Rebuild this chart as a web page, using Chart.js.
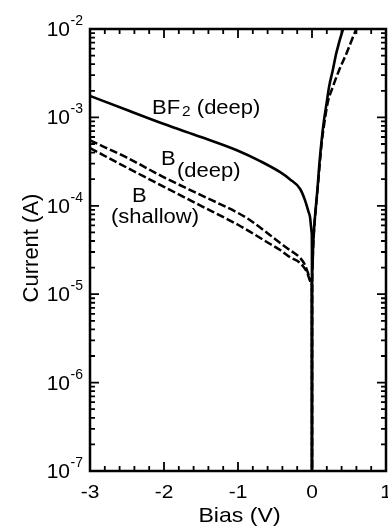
<!DOCTYPE html>
<html>
<head>
<meta charset="utf-8">
<script src="https://cdn.jsdelivr.net/npm/chart.js@4.4.1/dist/chart.umd.min.js"></script>
<style>
  html, body { margin: 0; padding: 0; background: #ffffff; }
  #wrap { width: 388px; height: 526px; position: relative; }
</style>
</head>
<body>
<div id="wrap"><canvas id="c" width="388" height="526"></canvas></div>
<script>
// ---- data (Bias in V, Current in A) ----
const biasBF2 = [-3, -2.5, -2, -1.5, -1, -0.7, -0.43, -0.3, -0.16, -0.095, -0.05, -0.027, -0.012, -0.004, -0.001, 0,
  0.002, 0.006, 0.0135, 0.025, 0.04, 0.06, 0.08, 0.1, 0.13, 0.16, 0.2, 0.23, 0.28, 0.33, 0.42, 0.5];
const currentBF2 = [1.75e-3, 1.21e-3, 8.4e-4, 6.0e-4, 4.2e-4, 3.2e-4, 2.4e-4, 2.0e-4, 1.55e-4, 1.16e-4, 8.7e-5, 7.5e-5, 5.75e-5, 4.9e-5, 3.0e-5, 1e-9,
  1.2e-5, 2.0e-5, 3.2e-5, 5.0e-5, 7.5e-5, 1.15e-4, 1.8e-4, 3.0e-4, 5.5e-4, 9.0e-4, 1.5e-3, 2.2e-3, 3.4e-3, 5.4e-3, 1.0e-2, 1.5e-2];

const biasBdeep = [-3, -2.5, -2, -1.5, -1, -0.84, -0.6, -0.43, -0.3, -0.16, -0.095, -0.054, -0.02, -0.003, 0,
  0.002, 0.006, 0.014, 0.026, 0.042, 0.062, 0.083, 0.105, 0.135, 0.17, 0.215, 0.28, 0.365, 0.47, 0.6, 0.7];
const currentBdeep = [5.5e-4, 3.5e-4, 2.1e-4, 1.32e-4, 8.3e-5, 6.9e-5, 4.9e-5, 3.8e-5, 3.16e-5, 2.57e-5, 2.14e-5, 1.74e-5, 1.48e-5, 1.34e-5, 1e-9,
  1.2e-5, 2.0e-5, 3.2e-5, 5.0e-5, 7.5e-5, 1.15e-4, 1.8e-4, 3.0e-4, 5.5e-4, 9.0e-4, 1.5e-3, 2.2e-3, 3.4e-3, 5.4e-3, 1.0e-2, 1.4e-2];

const biasBshallow = [-3, -2.5, -2, -1.5, -1, -0.84, -0.6, -0.43, -0.3, -0.16, -0.068, -0.0135, -0.002, 0];
const currentBshallow = [4.5e-4, 2.7e-4, 1.64e-4, 1.0e-4, 6.1e-5, 5.1e-5, 3.85e-5, 3.16e-5, 2.63e-5, 2.25e-5, 1.78e-5, 1.37e-5, 1.25e-5, 1e-9];

// ---- axes ----
const xMin = -3, xMax = 1;
const yMin = 1e-7, yMax = 1e-2;
const xTickValues = [-3, -2, -1, 0, 1];
const xTickLabels = ['-3', '-2', '-1', '0', '1'];
const xMinorStep = 0.2;
const yTickValues = [1e-7, 1e-6, 1e-5, 1e-4, 1e-3, 1e-2];
const yTickExponents = ['-7', '-6', '-5', '-4', '-3', '-2'];
const xTitle = 'Bias (V)';
const yTitle = 'Current (A)';

// curve labels, anchored in data units (left / baseline)
const curveLabels = [
  { x: -2.162, y: 1.08e-3, parts: [{ t: 'BF' }, { t: '2', sub: true }, { t: ' (deep)' }] },
  { x: -2.04, y: 2.9e-4, parts: [{ t: 'B' }] },
  { x: -1.824, y: 2.14e-4, parts: [{ t: '(deep)' }] },
  { x: -2.432, y: 1.10e-4, parts: [{ t: 'B' }] },
  { x: -2.716, y: 6.38e-5, parts: [{ t: '(shallow)' }] }
];

function pts(xs, ys) { return xs.map((v, i) => ({ x: v, y: ys[i] })); }

const FONT = '"Liberation Sans", Arial, Helvetica, sans-serif';
const SX = 1.1; // horizontal text stretch seen in the reference

function drawText(ctx, s, x, y, size, align, sx, rot) {
  ctx.save();
  ctx.translate(x, y);
  if (rot) ctx.rotate(rot);
  ctx.scale(sx, 1);
  ctx.font = size + 'px ' + FONT;
  ctx.textAlign = align;
  ctx.textBaseline = 'alphabetic';
  ctx.fillText(s, 0, 0);
  ctx.restore();
}
function textW(ctx, s, size, sx) {
  ctx.save();
  ctx.font = size + 'px ' + FONT;
  const w = ctx.measureText(s).width * sx;
  ctx.restore();
  return w;
}

const framePlugin = {
  id: 'frame',
  afterDatasetsDraw(chart) {
    const { ctx, chartArea: a, scales: { x, y } } = chart;
    ctx.save();
    ctx.strokeStyle = '#000';
    ctx.fillStyle = '#000';
    ctx.lineCap = 'butt';

    // ticks (inward, all four sides)
    ctx.lineWidth = 1.8;
    ctx.beginPath();
    const nx = Math.round((xMax - xMin) / xMinorStep);
    for (let i = 0; i <= nx; i++) {
      const v = xMin + i * xMinorStep;
      const major = xTickValues.some(t => Math.abs(t - v) < 1e-9);
      const len = major ? 9 : 5;
      const px = x.getPixelForValue(v);
      ctx.moveTo(px, a.bottom); ctx.lineTo(px, a.bottom - len);
      ctx.moveTo(px, a.top); ctx.lineTo(px, a.top + len);
    }
    for (let d = 0; d < yTickValues.length; d++) {
      const base = yTickValues[d];
      for (let m = 1; m <= 9; m++) {
        const v = base * m;
        if (v > yMax * 1.0001) break;
        const len = m === 1 ? 9 : 5;
        const py = y.getPixelForValue(v);
        ctx.moveTo(a.left, py); ctx.lineTo(a.left + len, py);
        ctx.moveTo(a.right, py); ctx.lineTo(a.right - len, py);
      }
    }
    ctx.stroke();

    // frame
    ctx.lineWidth = 2.5;
    ctx.strokeRect(a.left, a.top, a.right - a.left, a.bottom - a.top);

    // x tick labels
    xTickValues.forEach((v, i) => {
      drawText(ctx, xTickLabels[i], x.getPixelForValue(v), a.bottom + 27, 19, 'center', SX);
    });

    // y tick labels 10^n
    yTickValues.forEach((v, i) => {
      const py = y.getPixelForValue(v);
      const right = a.left - 7;
      const sup = yTickExponents[i];
      const sw = textW(ctx, sup, 14, 1);
      drawText(ctx, sup, right, py - 4, 14, 'right', 1);
      drawText(ctx, '10', right - sw - 0.5, py + 7, 21, 'right', 1);
    });

    // axis titles
    drawText(ctx, xTitle, (a.left + a.right) / 2 + 1.5, a.bottom + 50.5, 21, 'center', SX);
    drawText(ctx, yTitle, 38, (a.top + a.bottom) / 2 - 2, 22, 'center', 1, -Math.PI / 2);

    // curve labels
    curveLabels.forEach(lb => {
      let px = x.getPixelForValue(lb.x);
      const py = y.getPixelForValue(lb.y);
      lb.parts.forEach(p => {
        if (p.sub) {
          px += 2;
          drawText(ctx, p.t, px, py + 2, 14, 'left', SX);
          px += textW(ctx, p.t, 14, SX);
        } else {
          drawText(ctx, p.t, px, py, 20, 'left', SX);
          px += textW(ctx, p.t, 20, SX);
        }
      });
    });
    ctx.restore();
  }
};

const common = { pointRadius: 0, borderColor: '#000', fill: false, cubicInterpolationMode: 'monotone' };

new Chart(document.getElementById('c'), {
  type: 'line',
  data: {
    datasets: [
      Object.assign({ label: 'BF2 (deep)', data: pts(biasBF2, currentBF2), borderWidth: 2.6 }, common),
      Object.assign({ label: 'B (deep)', data: pts(biasBdeep, currentBdeep), borderWidth: 2.5, borderDash: [8, 3] }, common),
      Object.assign({ label: 'B (shallow)', data: pts(biasBshallow, currentBshallow), borderWidth: 2.5, borderDash: [8, 3] }, common)
    ]
  },
  options: {
    responsive: false,
    animation: false,
    devicePixelRatio: 1,
    layout: { padding: { left: 90, right: 2, top: 29, bottom: 55 } },
    plugins: { legend: { display: false }, tooltip: { enabled: false } },
    scales: {
      x: { type: 'linear', min: xMin, max: xMax, display: false },
      y: { type: 'logarithmic', min: yMin, max: yMax, display: false }
    }
  },
  plugins: [framePlugin]
});
</script>
</body>
</html>
